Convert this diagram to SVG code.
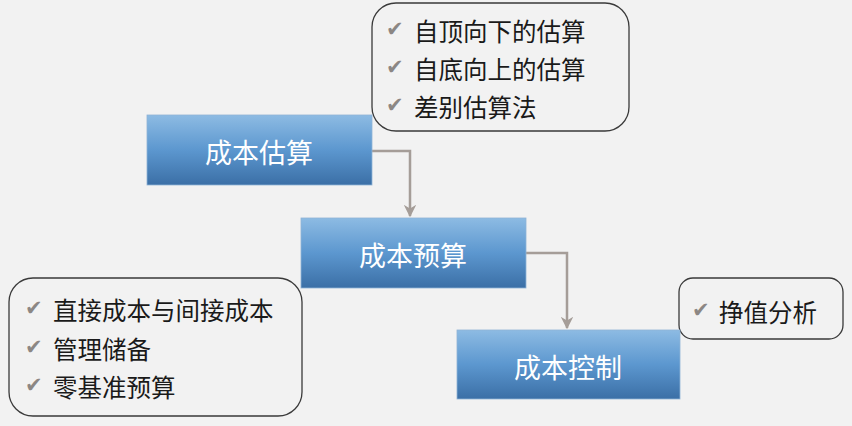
<svg xmlns="http://www.w3.org/2000/svg" width="852" height="426" viewBox="0 0 852 426">
<defs>
<linearGradient id="g" x1="0" y1="0" x2="0" y2="1">
<stop offset="0" stop-color="#8dbbe3"/>
<stop offset="0.5" stop-color="#5c97cf"/>
<stop offset="1" stop-color="#3b6fa6"/>
</linearGradient>
<marker id="ah" viewBox="0 0 10 10" refX="9" refY="5" markerWidth="5" markerHeight="5" orient="auto" markerUnits="strokeWidth">
<path d="M0,0 L10,5 L0,10 L3,5 z" fill="#a59d98"/>
</marker>
</defs>
<style>
.box{fill:url(#g);stroke:#8fb3d6;stroke-width:0.8}
.title{font-family:"Noto Sans CJK SC","Noto Sans",sans-serif;font-size:27px;fill:#ffffff;text-anchor:middle;dominant-baseline:central}
.call{fill:#f2f2f2;stroke:#3a3a3a;stroke-width:1.3}
.item{font-family:"Noto Sans CJK SC","Noto Sans",sans-serif;font-size:24.5px;fill:#1a1a1a;dominant-baseline:central}
.chk{font-family:"DejaVu Sans",sans-serif;font-size:21px;fill:#8c8784;dominant-baseline:central}
.conn{fill:none;stroke:#a59d98;stroke-width:2.5}
</style>
<rect width="852" height="426" fill="#f2f2f2"/>
<g id="connectors">
<path class="conn" d="M372,151 H410 V216" marker-end="url(#ah)"/>
<path class="conn" d="M526,253 H567 V328" marker-end="url(#ah)"/>
</g>
<g id="callout-top">
<rect class="call" x="372" y="3" width="257" height="128" rx="24"/>
<text class="chk" x="386" y="29">✔</text><text class="item" x="414" y="30">自顶向下的估算</text>
<text class="chk" x="386" y="67">✔</text><text class="item" x="414" y="68">自底向上的估算</text>
<text class="chk" x="386" y="105">✔</text><text class="item" x="414" y="106">差别估算法</text>
</g>
<g id="callout-left">
<rect class="call" x="9" y="278" width="293" height="138" rx="24"/>
<text class="chk" x="25" y="308">✔</text><text class="item" x="53" y="309">直接成本与间接成本</text>
<text class="chk" x="25" y="347">✔</text><text class="item" x="53" y="348">管理储备</text>
<text class="chk" x="25" y="385">✔</text><text class="item" x="53" y="386">零基准预算</text>
</g>
<g id="callout-right">
<rect class="call" x="679" y="278" width="164" height="61" rx="14"/>
<text class="chk" x="692" y="310">✔</text><text class="item" x="719" y="311">挣值分析</text>
</g>
<g id="n1">
<rect class="box" x="147" y="115" width="225" height="70"/>
<text class="title" x="259" y="151">成本估算</text>
</g>
<g id="n2">
<rect class="box" x="301" y="218" width="225" height="70"/>
<text class="title" x="413" y="254">成本预算</text>
</g>
<g id="n3">
<rect class="box" x="457" y="330" width="223" height="69"/>
<text class="title" x="568" y="366">成本控制</text>
</g>
</svg>
